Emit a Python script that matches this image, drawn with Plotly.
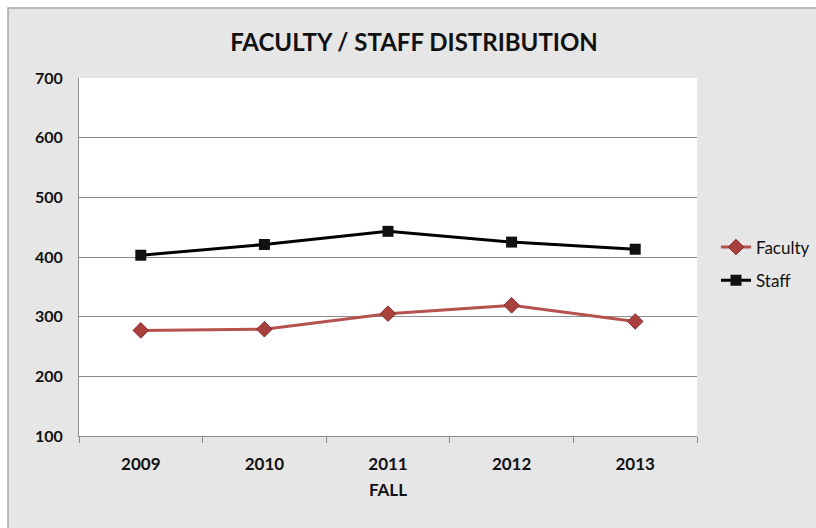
import plotly.graph_objects as go

years = ["2009", "2010", "2011", "2012", "2013"]
faculty = [277, 279, 305, 319, 292]
staff = [403, 421, 443, 425, 413]
y_ticks = [100, 200, 300, 400, 500, 600, 700]

L, R, T, B = 79, 697, 78, 436
W, H = 816, 528
pw, ph = R - L, B - T

def px(x):
    return (x - L) / pw

def py(y):
    return (B - y) / ph

fig = go.Figure()
fig.add_trace(go.Scatter(
    x=years, y=faculty, name="Faculty", mode="lines+markers",
    line=dict(color="#B5514E", width=3),
    marker=dict(symbol="diamond", size=12, color="#A8403D",
                line=dict(color="#8B2F2C", width=1)),
    legendgroup="f",
))
fig.add_trace(go.Scatter(
    x=years, y=staff, name="Staff", mode="lines+markers",
    line=dict(color="#000000", width=3),
    marker=dict(symbol="square", size=11, color="#111111"),
    legendgroup="s",
))

fig.update_layout(
    width=W, height=H,
    margin=dict(l=L, r=W - R, t=T, b=H - B),
    paper_bgcolor="white",
    plot_bgcolor="white",
    font=dict(family="Lato", color="#111111"),
    title=dict(text="FACULTY / STAFF DISTRIBUTION", xref="container", x=414 / W,
               xanchor="center", y=1 - 43 / H, yanchor="middle",
               font=dict(size=24, family="Lato", weight="bold")),
    showlegend=True,
    legend=dict(xref="container", yref="container",
                x=716 / W, y=1 - 264 / H, xanchor="left", yanchor="middle",
                bgcolor="rgba(0,0,0,0)", font=dict(size=17, family="Lato"),
                tracegroupgap=8, traceorder="grouped", itemwidth=30),
    shapes=[
        dict(type="rect", xref="paper", yref="paper", layer="below",
             x0=px(8), x1=px(818), y0=py(530), y1=py(8),
             fillcolor="#E6E6E6", line=dict(color="#A6A6A6", width=1.5)),
        dict(type="rect", xref="paper", yref="paper", layer="below",
             x0=0, x1=1, y0=0, y1=1,
             fillcolor="white", line=dict(width=0)),
    ],
)

fig.update_xaxes(
    type="category", range=[-0.5, 4.5],
    showline=True, linecolor="#8C8C8C", linewidth=1,
    ticks="outside", tickson="boundaries", ticklen=6, tickcolor="#8C8C8C",
    showgrid=False,
    tickfont=dict(size=17, family="Lato", color="#111111", weight="bold"),
    ticklabelstandoff=13,
    title=dict(text="FALL", font=dict(size=17, family="Lato", weight="bold"), standoff=10),
)
fig.update_yaxes(
    range=[100, 700], tickvals=y_ticks,
    showline=True, linecolor="#8C8C8C", linewidth=1,
    showgrid=True, gridcolor="#8C8C8C", gridwidth=1,
    zeroline=False,
    tickfont=dict(size=16, family="Lato", color="#111111", weight="bold"),
    ticklabelstandoff=12,
)

fig.write_html("out.html", config={"displayModeBar": False},
               post_script="document.body.style.margin='0';document.body.style.overflow='hidden';")
